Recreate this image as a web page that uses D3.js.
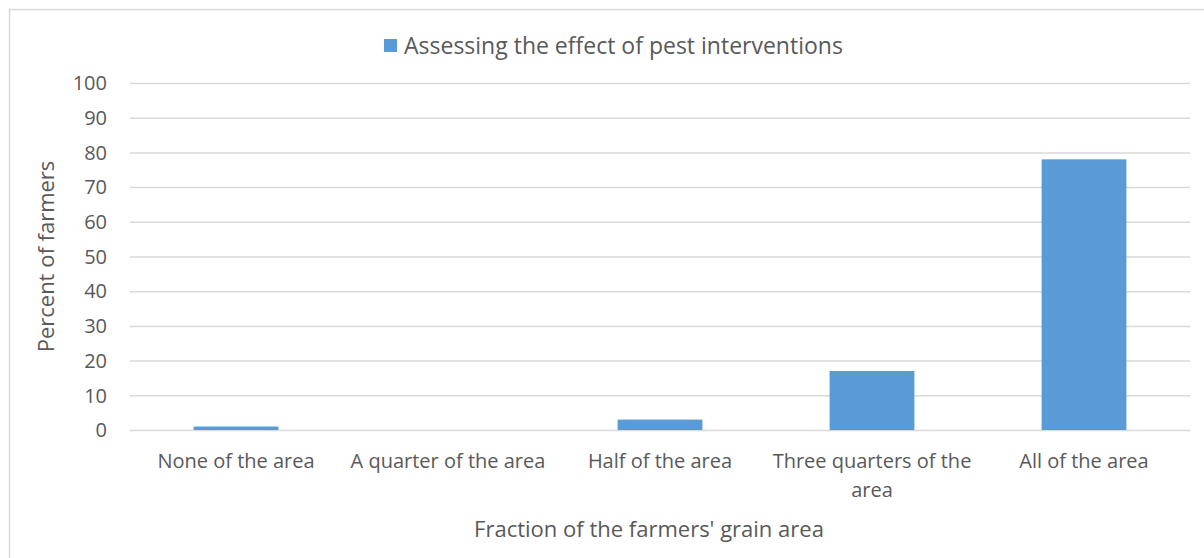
<!DOCTYPE html>
<html>
<head>
<meta charset="utf-8">
<script src="https://cdn.jsdelivr.net/npm/d3@7"></script>
<style>
  body { margin: 0; background: #fff; }
  svg text { font-family: "Open Sans", "Noto Sans", sans-serif; fill: #595959; }
</style>
</head>
<body>
<svg id="chart" width="1204" height="558"></svg>
<script>
// Data
const categories = [
  "None of the area",
  "A quarter of the area",
  "Half of the area",
  "Three quarters of the area",
  "All of the area",
];
const values = [1, 0, 3, 17, 78];
const yTicks = [0, 10, 20, 30, 40, 50, 60, 70, 80, 90, 100];
const seriesName = "Assessing the effect of pest interventions";

const BAR = "#5b9bd5";
const GRID = "#d9d9d9";

const svg = d3.select("#chart");

// outer chart border
svg.append("rect")
  .attr("x", 9.5).attr("y", 9.5)
  .attr("width", 1200).attr("height", 560)
  .attr("fill", "none").attr("stroke", GRID).attr("stroke-width", 1.5);

const plot = { left: 130, right: 1190, top: 83, bottom: 430 };

const x = d3.scaleBand()
  .domain(categories)
  .range([plot.left, plot.right])
  .paddingInner(0.6)
  .paddingOuter(0.3);

const y = d3.scaleLinear().domain([0, 100]).range([plot.bottom, plot.top]);

// gridlines
svg.append("g").selectAll("line")
  .data(yTicks)
  .join("line")
  .attr("x1", plot.left).attr("x2", plot.right)
  .attr("y1", (d) => y(d) + 0.5).attr("y2", (d) => y(d) + 0.5)
  .attr("stroke", GRID).attr("stroke-width", 1.5);

// y tick labels
svg.append("g").selectAll("text")
  .data(yTicks)
  .join("text")
  .attr("x", 107)
  .attr("y", (d) => y(d))
  .attr("dy", "0.36em")
  .attr("text-anchor", "end")
  .attr("font-size", 20)
  .text((d) => d);

// bars
svg.append("g").selectAll("rect")
  .data(values)
  .join("rect")
  .attr("x", (d, i) => x(categories[i]))
  .attr("width", x.bandwidth())
  .attr("y", (d) => y(d))
  .attr("height", (d) => y(0) - y(d))
  .attr("fill", BAR);

// x category labels, wrapped like the original
const xLabels = svg.append("g").selectAll("text")
  .data(categories)
  .join("text")
  .attr("text-anchor", "middle")
  .attr("font-size", 20)
  .attr("y", 468);

xLabels.each(function(d) {
  const el = d3.select(this);
  const cx = x(d) + x.bandwidth() / 2;
  const lines = d === "Three quarters of the area"
    ? ["Three quarters of the", "area"]
    : [d];
  lines.forEach((ln, i) => {
    el.append("tspan").attr("x", cx).attr("dy", i === 0 ? 0 : 29).text(ln);
  });
});

// axis titles
svg.append("text")
  .attr("x", 649)
  .attr("y", 537)
  .attr("text-anchor", "middle")
  .attr("font-size", 22)
  .text("Fraction of the farmers' grain area");

svg.append("text")
  .attr("transform", `translate(54, ${(plot.top + plot.bottom) / 2}) rotate(-90)`)
  .attr("text-anchor", "middle")
  .attr("font-size", 22)
  .text("Percent of farmers");

// legend
const legend = svg.append("g").attr("transform", "translate(384, 39)");
legend.append("rect").attr("width", 13).attr("height", 13).attr("fill", BAR);
legend.append("text")
  .attr("x", 20).attr("y", 7)
  .attr("dy", "0.36em")
  .attr("font-size", 23)
  .text(seriesName);
</script>
</body>
</html>
